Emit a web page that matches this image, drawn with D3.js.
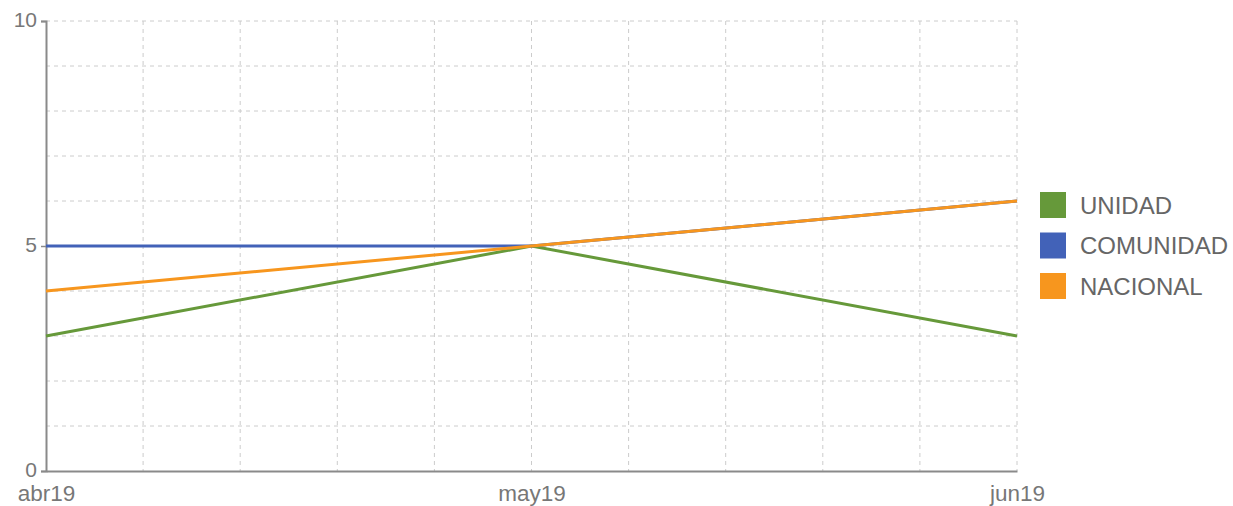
<!DOCTYPE html>
<html>
<head>
<meta charset="utf-8">
<script src="https://cdn.jsdelivr.net/npm/d3@7/dist/d3.min.js"></script>
<style>
  body { margin: 0; background: #fff; }
  svg { display: block; font-family: "Liberation Sans", Arial, sans-serif; }
</style>
</head>
<body>
<svg id="chart" width="1233" height="506"></svg>
<script>
// Monthly indicators
const months = ["abr19", "may19", "jun19"];
const unidad = [3, 5, 3];
const comunidad = [5, 5, 6];
const nacional = [4, 5, 6];
const seriesNames = ["UNIDAD", "COMUNIDAD", "NACIONAL"];
const seriesColors = ["#66993a", "#4262b8", "#f7961e"];
const yTicks = [0, 5, 10];

const svg = d3.select("#chart");
const plotLeft = 46, plotRight = 1017, plotTop = 21, plotBottom = 471;

const x = d3.scalePoint().domain(months).range([plotLeft, plotRight]);
const xLin = d3.scaleLinear().domain([0, 10]).range([plotLeft, plotRight]);
const y = d3.scaleLinear().domain([0, 10]).range([plotBottom, plotTop]);

// dashed grid
const grid = svg.append("g").attr("stroke", "#cccccc").attr("stroke-width", 1)
  .attr("stroke-dasharray", "4,4");
d3.range(1, 11).forEach(i => {
  grid.append("line")
    .attr("x1", xLin(i)).attr("x2", xLin(i))
    .attr("y1", plotTop).attr("y2", plotBottom);
});
d3.range(1, 11).forEach(i => {
  grid.append("line")
    .attr("x1", plotLeft).attr("x2", plotRight)
    .attr("y1", y(i)).attr("y2", y(i));
});

// axes
const yAxis = svg.append("g").attr("transform", `translate(${plotLeft},0)`)
  .call(d3.axisLeft(y).tickValues(yTicks).tickSize(5).tickPadding(4));
const xAxis = svg.append("g").attr("transform", `translate(0,${plotBottom})`)
  .call(d3.axisBottom(x).tickSize(0).tickPadding(0));
[yAxis, xAxis].forEach(a => {
  a.select(".domain").attr("stroke", "#8a8a8a").attr("stroke-width", 2);
  a.selectAll(".tick line").attr("stroke", "#8a8a8a").attr("stroke-width", 1.5);
  a.selectAll("text").attr("fill", "#777")
    .attr("font-family", "\"Liberation Sans\", Arial, sans-serif");
});
yAxis.selectAll("text").attr("font-size", 21).attr("dy", "0.25em");
xAxis.selectAll("text").attr("font-size", 22.5).attr("y", 30).attr("dy", 0);

// lines: UNIDAD, COMUNIDAD, NACIONAL (later drawn on top)
const line = d3.line().x((d, i) => x(months[i])).y(d => y(d));
[unidad, comunidad, nacional].forEach((vals, k) => {
  svg.append("path")
    .datum(vals)
    .attr("fill", "none")
    .attr("stroke", seriesColors[k])
    .attr("stroke-width", 3)
    .attr("d", line);
});

// legend
const legend = svg.append("g").attr("transform", "translate(1040,192)");
seriesNames.forEach((name, i) => {
  const g = legend.append("g").attr("transform", `translate(0,${i * 40.5})`);
  g.append("rect").attr("width", 26).attr("height", 26).attr("fill", seriesColors[i]);
  g.append("text").attr("x", 40).attr("y", 13).attr("dy", "0.36em")
    .attr("fill", "#666").attr("font-size", 24).text(name);
});
</script>
</body>
</html>
